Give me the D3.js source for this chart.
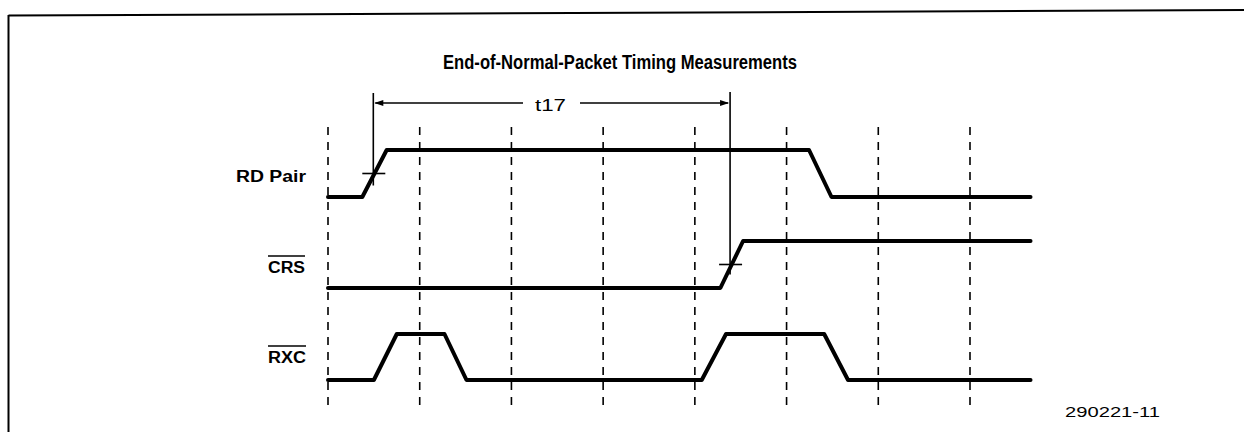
<!DOCTYPE html>
<html lang="en">
<head>
<meta charset="utf-8" />
<title>End-of-Normal-Packet Timing Measurements</title>
<script src="https://d3js.org/d3.v7.min.js"></script>
<style>
  body { margin: 0; background: #fff; }
  text { font-family: "Liberation Sans", Arial, Helvetica, sans-serif; fill: #000; }
</style>
</head>
<body>
<script type="text/javascript">

// dados (tempo em unidades de grade, nivel 0/1)
var gridTicks = [0, 1, 2, 3, 4, 5, 6, 7];
var signalNames = ["RD Pair", "CRS", "RXC"];
var overlined = [false, true, true];
var rdTimes  = [0, 0.374, 0.64, 5.245, 5.49, 7.66];
var rdLevels = [0, 0, 1, 1, 0, 0];
var crsTimes  = [0, 4.278, 4.526, 7.66];
var crsLevels = [0, 0, 1, 1];
var rxcTimes  = [0, 0.50, 0.75, 1.27, 1.51, 4.075, 4.34, 5.41, 5.67, 7.66];
var rxcLevels = [0, 0, 1, 1, 0, 0, 1, 1, 0, 0];
var t17Label = "t17";
var t17Start = 0.494;   // cruzamento em RD Pair
var t17End = 4.384;     // cruzamento em CRS
var titleText = "End-of-Normal-Packet Timing Measurements";
var figureId = "290221-11";

var limX = 1244;
var limY = 432;

var svg = d3.select("body").append("svg")
  .attr("width", limX)
  .attr("height", limY);

// escala de tempo
var x = d3.scaleLinear().domain([0, 7]).range([328, 970]);

// uma escala y por sinal
var rowY = [
  d3.scaleLinear().domain([0, 1]).range([197, 150]),
  d3.scaleLinear().domain([0, 1]).range([288, 241]),
  d3.scaleLinear().domain([0, 1]).range([380, 334])
];

var signals = [
  { t: rdTimes, v: rdLevels },
  { t: crsTimes, v: crsLevels },
  { t: rxcTimes, v: rxcLevels }
];

// moldura
svg.append("line")
  .attr("x1", 8.5).attr("y1", 15.5)
  .attr("x2", limX).attr("y2", 10)
  .attr("stroke", "black").attr("stroke-width", 2);
svg.append("line")
  .attr("x1", 8.5).attr("y1", 15)
  .attr("x2", 8.5).attr("y2", limY)
  .attr("stroke", "black").attr("stroke-width", 2);

// titulo
svg.append("text")
  .attr("x", 443).attr("y", 69)
  .attr("font-size", 20)
  .attr("font-weight", "bold")
  .attr("textLength", 354)
  .attr("lengthAdjust", "spacingAndGlyphs")
  .text(titleText);

// linhas tracejadas da grade
svg.selectAll("line.grid")
  .data(gridTicks)
  .enter()
  .append("line")
  .attr("class", "grid")
  .attr("x1", function(d){ return x(d); })
  .attr("x2", function(d){ return x(d); })
  .attr("y1", 127)
  .attr("y2", 405)
  .attr("stroke", "black")
  .attr("stroke-width", 1.6)
  .attr("stroke-dasharray", "8,7");

// formas de onda
var line = d3.line();
signals.forEach(function(s, k){
  var pts = s.t.map(function(t, i){ return [x(t), rowY[k](s.v[i])]; });
  svg.append("path")
    .attr("d", line(pts))
    .attr("fill", "none")
    .attr("stroke", "black")
    .attr("stroke-width", 4)
    .attr("stroke-linejoin", "round")
    .attr("stroke-linecap", "round");
});

// rotulos dos sinais
var labelX = [236, 268, 268];
var labelW = [70, 37, 38];
var labelBase = [182, 273, 363];
signalNames.forEach(function(name, k){
  svg.append("text")
    .attr("x", labelX[k]).attr("y", labelBase[k])
    .attr("font-size", 16)
    .attr("font-weight", "bold")
    .attr("textLength", labelW[k])
    .attr("lengthAdjust", "spacingAndGlyphs")
    .text(name);
  if (overlined[k]) {
    svg.append("line")
      .attr("x1", labelX[k]).attr("x2", labelX[k] + labelW[k])
      .attr("y1", labelBase[k] - 17).attr("y2", labelBase[k] - 17)
      .attr("stroke", "black").attr("stroke-width", 1.5);
  }
});

// marcadores do t17
var midRd = rowY[0](0.5);
var midCrs = rowY[1](0.5);
var arrowY = 103;

svg.append("line")
  .attr("x1", x(t17Start)).attr("x2", x(t17Start))
  .attr("y1", 93).attr("y2", midRd + 12)
  .attr("stroke", "black").attr("stroke-width", 1.6);
svg.append("line")
  .attr("x1", x(t17End)).attr("x2", x(t17End))
  .attr("y1", 92).attr("y2", midCrs + 10)
  .attr("stroke", "black").attr("stroke-width", 1.6);

// cruzes
[[t17Start, midRd], [t17End, midCrs]].forEach(function(c){
  svg.append("line")
    .attr("x1", x(c[0]) - 11).attr("x2", x(c[0]) + 12)
    .attr("y1", c[1]).attr("y2", c[1])
    .attr("stroke", "black").attr("stroke-width", 1.6);
});

// seta com texto
svg.append("line")
  .attr("x1", x(t17Start) + 2).attr("x2", 523)
  .attr("y1", arrowY).attr("y2", arrowY)
  .attr("stroke", "black").attr("stroke-width", 1.4);
svg.append("line")
  .attr("x1", 580).attr("x2", x(t17End) - 2)
  .attr("y1", arrowY).attr("y2", arrowY)
  .attr("stroke", "black").attr("stroke-width", 1.4);
svg.append("path")
  .attr("d", "M" + (x(t17Start) + 1) + "," + arrowY + " l9,-3 l0,6 z")
  .attr("fill", "black");
svg.append("path")
  .attr("d", "M" + (x(t17End) - 1) + "," + arrowY + " l-9,-3 l0,6 z")
  .attr("fill", "black");

svg.append("text")
  .attr("x", 535).attr("y", 111)
  .attr("font-size", 17)
  .attr("textLength", 31)
  .attr("lengthAdjust", "spacingAndGlyphs")
  .text(t17Label);

// numero da figura
svg.append("text")
  .attr("x", 1065).attr("y", 417)
  .attr("font-size", 15)
  .attr("textLength", 95)
  .attr("lengthAdjust", "spacingAndGlyphs")
  .text(figureId);

</script>
</body>
</html>
